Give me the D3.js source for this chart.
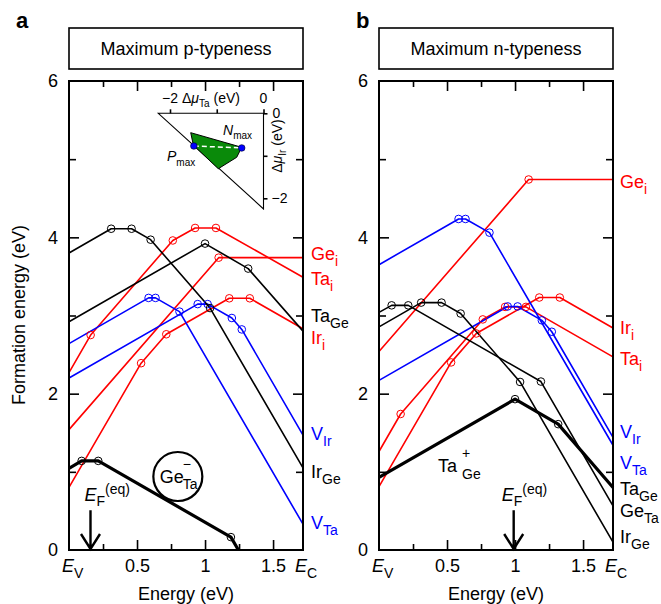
<!DOCTYPE html>
<html lang="en">
<head>
<meta charset="UTF-8">
<title>Defect formation energies</title>
<style>
  body { margin: 0; background: #fff; }
  svg { font-family: "Liberation Sans", Arial, Helvetica, sans-serif; }
  .frame { fill: none; stroke: #000; stroke-width: 2; }
  .box { fill: none; stroke: #000; stroke-width: 1.6; }
  .tick line { stroke: #000; stroke-width: 1.6; }
</style>
</head>
<body>
<svg id="chart" width="661" height="604"></svg>
<script src="https://d3js.org/d3.v7.min.js"></script>
<script>
// energy axis (eV), E_V = 0 .. E_C
const bandGap = 1.72;
const energyTicks = [0.5, 1, 1.5];
const energyMinor = [0.25, 0.75, 1.25];
const formTicks = [0, 2, 4, 6];
const formMajorInner = [2, 4];
const formMinor = [1, 3, 5];

// defects, same order in every list below
const defectMain = ["Ge", "Ta", "Ir", "V", "V", "Ta", "Ge", "Ir"];
const defectSub = ["i", "i", "i", "Ta", "Ir", "Ge", "Ta", "Ge"];

// panel a, maximum p-typeness: [Fermi level, formation energy]
const pGei = [[0, 1.54], [1.10, 3.74], [1.72, 3.74]];
const pTai = [[0, 2.27], [0.159, 2.75], [0.763, 3.96], [0.927, 4.12], [1.08, 4.12], [1.72, 3.49]];
const pIri = [[0, 0.80], [0.53, 2.39], [0.715, 2.76], [1.178, 3.22], [1.329, 3.22], [1.72, 2.83]];
const pVTa = [[0, 2.64], [0.585, 3.225], [0.636, 3.225], [0.812, 3.05], [1.72, 0.33]];
const pVIr = [[0, 2.20], [0.946, 3.146], [1.019, 3.146], [1.197, 2.968], [1.27, 2.822], [1.72, 1.47]];
const pTaGe = [[0, 2.92], [1.0, 3.92], [1.317, 3.60], [1.72, 2.80]];
const pGeTa = [[0, 1.045], [0.093, 1.14], [0.215, 1.14], [1.19, 0.165], [1.245, 0]];
const pIrGe = [[0, 3.80], [0.31, 4.11], [0.46, 4.11], [0.60, 3.97], [1.037, 3.095], [1.72, 1.05]];

// panel b, maximum n-typeness
const nGei = [[0, 2.54], [1.10, 4.74], [1.72, 4.74]];
const nTai = [[0, 1.26], [0.159, 1.74], [0.763, 2.95], [0.927, 3.11], [1.08, 3.11], [1.72, 2.47]];
const nIri = [[0, 0.81], [0.53, 2.40], [0.715, 2.77], [1.178, 3.23], [1.329, 3.23], [1.72, 2.84]];
const nVTa = [[0, 3.65], [0.585, 4.235], [0.636, 4.235], [0.812, 4.06], [1.72, 1.34]];
const nVIr = [[0, 2.17], [0.946, 3.116], [1.019, 3.116], [1.197, 2.938], [1.27, 2.792], [1.72, 1.44]];
const nTaGe = [[0, 0.93], [1.0, 1.93], [1.317, 1.61], [1.72, 0.80]];
const nGeTa = [[0, 3.04], [0.093, 3.13], [0.215, 3.13], [1.19, 2.155], [1.72, 0.565]];
const nIrGe = [[0, 2.855], [0.31, 3.165], [0.46, 3.165], [0.60, 3.025], [1.037, 2.15], [1.72, 0.10]];

// energy at which each right-hand label sits (null = no label)
const labelEnergyA = [3.71, 3.39, 2.635, 0.27, 1.41, 2.917, null, 0.92];
const labelEnergyB = [4.63, 2.37, 2.76, 1.04, 1.43, 0.70, 0.42, 0.09];

// equilibrium Fermi levels
const fermiA = 0.158;
const fermiB = 0.99;

// chemical potential inset (eV)
const insetTriangle = [[-2.25, 0], [0, 0], [0, -2.25]];
const stableRegion = [[-1.557, -0.456], [-0.466, -0.80], [-0.573, -1.035], [-0.967, -1.304], [-1.50, -0.75]];
const pMax = [-1.49, -0.77];
const nMax = [-0.466, -0.815];
const insetTicks = [-2, -1, 0];

const svg = d3.select("#chart");
const y = d3.scaleLinear().domain([0, 6]).range([550, 81]);

function colorOf(i) {
  if (defectSub[i] === "i") return "#ff0000";
  if (defectMain[i] === "V") return "#0000ff";
  return "#000000";
}

function subText(sel, main, sub, italic) {
  sel.append("tspan").attr("font-style", italic ? "italic" : null).text(main);
  sel.append("tspan").attr("font-size", 14).attr("dy", 6).text(sub);
}

function drawPanel(cfg) {
  const x = d3.scaleLinear().domain([0, bandGap]).range(cfg.range);
  const x0 = cfg.range[0], x1 = cfg.range[1];
  const g = svg.append("g");

  // panel letter and title box
  g.append("text").attr("x", cfg.letterX).attr("y", 28)
    .attr("font-size", 22).attr("font-weight", "bold").text(cfg.letter);
  g.append("rect").attr("class", "box")
    .attr("x", x0).attr("y", 28).attr("width", x1 - x0).attr("height", 41);
  g.append("text").attr("x", (x0 + x1) / 2).attr("y", 55)
    .attr("text-anchor", "middle").attr("font-size", 18).text(cfg.title);

  // inward ticks on all four sides
  const ticks = (axis, tr, size) => g.append("g").attr("transform", tr)
    .call(axis.tickSize(size).tickFormat(""))
    .call(s => s.select(".domain").remove());
  ticks(d3.axisBottom(x).tickValues(energyTicks), `translate(0,${y(0)})`, -10);
  ticks(d3.axisBottom(x).tickValues(energyMinor), `translate(0,${y(0)})`, -6);
  ticks(d3.axisTop(x).tickValues(energyTicks), `translate(0,${y(6)})`, -10);
  ticks(d3.axisTop(x).tickValues(energyMinor), `translate(0,${y(6)})`, -6);
  ticks(d3.axisLeft(y).tickValues(formMajorInner), `translate(${x0},0)`, -10);
  ticks(d3.axisLeft(y).tickValues(formMinor), `translate(${x0},0)`, -7);
  ticks(d3.axisRight(y).tickValues(formMajorInner), `translate(${x1},0)`, -10);
  ticks(d3.axisRight(y).tickValues(formMinor), `translate(${x1},0)`, -7);

  // tick labels
  g.append("g").attr("transform", `translate(0,${y(0)})`)
    .call(d3.axisBottom(x).tickValues(energyTicks).tickSize(0).tickPadding(9).tickFormat(d => d))
    .call(s => s.select(".domain").remove())
    .attr("font-size", 18).attr("font-family", null);
  g.append("g").attr("transform", `translate(${x0},0)`)
    .call(d3.axisLeft(y).tickValues(formTicks).tickSize(0).tickPadding(11).tickFormat(d => d))
    .call(s => s.select(".domain").remove())
    .attr("font-size", 18).attr("font-family", null);

  const ev = g.append("text").attr("x", x(0) - 7).attr("y", 572).attr("font-size", 18);
  subText(ev, "E", "V", true);
  const ec = g.append("text").attr("x", x(bandGap) - 8).attr("y", 572).attr("font-size", 18);
  subText(ec, "E", "C", true);
  g.append("text").attr("x", (x0 + x1) / 2).attr("y", 600)
    .attr("text-anchor", "middle").attr("font-size", 18).text("Energy (eV)");

  // defect lines
  const line = d3.line().x(d => x(d[0])).y(d => y(d[1]));
  cfg.series.forEach((pts, i) => {
    g.append("path").datum(pts).attr("d", line)
      .attr("fill", "none").attr("stroke", colorOf(i))
      .attr("stroke-width", i === cfg.thick ? 3.2 : 1.6)
      .attr("stroke-linejoin", "round");
  });
  cfg.series.forEach((pts, i) => {
    g.selectAll(null).data(pts.slice(1, -1)).enter().append("circle")
      .attr("cx", d => x(d[0])).attr("cy", d => y(d[1])).attr("r", 3.8)
      .attr("fill", "none").attr("stroke", colorOf(i)).attr("stroke-width", 1);
  });

  // frame
  g.append("rect").attr("class", "frame")
    .attr("x", x0).attr("y", y(6)).attr("width", x1 - x0).attr("height", y(0) - y(6));

  // right-hand labels
  cfg.labels.forEach((e, i) => {
    if (e === null) return;
    const t = g.append("text").attr("x", x1 + cfg.labelGap).attr("y", y(e))
      .attr("font-size", 18).attr("fill", colorOf(i));
    subText(t, defectMain[i], defectSub[i], false);
  });

  // equilibrium Fermi level arrow
  const fx = x(cfg.fermi);
  g.append("path")
    .attr("d", `M${fx},${y(0.51)}V${y(0) - 1}M${fx - 9.5},${y(0) - 16}L${fx},${y(0) - 1}L${fx + 9.5},${y(0) - 16}`)
    .attr("fill", "none").attr("stroke", "#000").attr("stroke-width", 2.4);
  const ef = g.append("text").attr("x", fx + cfg.fermiText).attr("y", 501).attr("font-size", 18);
  ef.append("tspan").attr("font-style", "italic").text("E");
  ef.append("tspan").attr("font-size", 14).attr("dy", 5).text("F");
  ef.append("tspan").attr("font-size", 14).attr("dy", -12).text("(eq)");

  return { g, x };
}

const a = drawPanel({
  letter: "a", letterX: 16, title: "Maximum p-typeness", range: [69, 303], labelGap: 8,
  series: [pGei, pTai, pIri, pVTa, pVIr, pTaGe, pGeTa, pIrGe], thick: 6,
  labels: labelEnergyA, fermi: fermiA, fermiText: -6
});
const b = drawPanel({
  letter: "b", letterX: 356, title: "Maximum n-typeness", range: [379, 613], labelGap: 7,
  series: [nGei, nTai, nIri, nVTa, nVIr, nTaGe, nGeTa, nIrGe], thick: 5,
  labels: labelEnergyB, fermi: fermiB, fermiText: -12
});

// y axis title
svg.append("text").attr("transform", "translate(25,315) rotate(-90)")
  .attr("text-anchor", "middle").attr("font-size", 18).text("Formation energy (eV)");

// dominant defect callouts
const ca = a.g.append("g");
ca.append("circle").attr("cx", a.x(0.80)).attr("cy", y(0.94)).attr("r", 24.5)
  .attr("fill", "#fff").attr("stroke", "#000").attr("stroke-width", 2.2);
const caT = ca.append("text").attr("font-size", 18);
caT.append("tspan").attr("x", a.x(0.80) - 18).attr("y", y(0.94) + 6).text("Ge");
caT.append("tspan").attr("x", a.x(0.80) + 5).attr("y", y(0.94) + 12).attr("font-size", 14).text("Ta");
caT.append("tspan").attr("x", a.x(0.80) + 5).attr("y", y(0.94) - 8).attr("font-size", 14).text("\u2212");

const cbT = b.g.append("text").attr("font-size", 18);
cbT.append("tspan").attr("x", 438).attr("y", 472).text("Ta");
cbT.append("tspan").attr("x", 462).attr("y", 458).attr("font-size", 14).text("+");
cbT.append("tspan").attr("x", 462).attr("y", 479).attr("font-size", 14).text("Ge");

// chemical potential inset in panel a
const muTa = d3.scaleLinear().domain([-2, 0]).range([170, 263.5]);
const muIr = d3.scaleLinear().domain([0, -2]).range([113.3, 198.3]);
const ins = a.g.append("g");
const poly = d3.line().x(d => muTa(d[0])).y(d => muIr(d[1])).curve(d3.curveLinearClosed);
ins.append("path").datum(insetTriangle).attr("d", poly)
  .attr("fill", "#fff").attr("stroke", "#000").attr("stroke-width", 1.1);
ins.append("g").attr("transform", `translate(0,${muIr(0)})`)
  .call(d3.axisTop(muTa).tickValues(insetTicks).tickSize(4).tickFormat(""))
  .call(s => s.select(".domain").remove());
ins.append("g").attr("transform", `translate(${muTa(0)},0)`)
  .call(d3.axisRight(muIr).tickValues(insetTicks).tickSize(4).tickFormat(""))
  .call(s => s.select(".domain").remove());
ins.selectAll(".tick line").attr("stroke-width", 1.1);
ins.append("path").datum(stableRegion).attr("d", poly)
  .attr("fill", "#0a8a0a").attr("stroke", "#000").attr("stroke-width", 1);
ins.append("line")
  .attr("x1", muTa(pMax[0])).attr("y1", muIr(pMax[1]))
  .attr("x2", muTa(nMax[0])).attr("y2", muIr(nMax[1]))
  .attr("stroke", "#fff").attr("stroke-width", 1.5).attr("stroke-dasharray", "5,3");
ins.selectAll(null).data([pMax, nMax]).enter().append("circle")
  .attr("cx", d => muTa(d[0])).attr("cy", d => muIr(d[1])).attr("r", 3.3)
  .attr("fill", "#0000ff").attr("stroke", "#000022").attr("stroke-width", 0.6);

const topLab = ins.append("text").attr("y", 103).attr("font-size", 14);
ins.append("text").attr("x", muTa(-2)).attr("y", 103).attr("font-size", 14)
  .attr("text-anchor", "middle").text("\u22122");
ins.append("text").attr("x", muTa(0)).attr("y", 103).attr("font-size", 14)
  .attr("text-anchor", "middle").text("0");
topLab.attr("x", 182);
topLab.append("tspan").text("\u0394");
topLab.append("tspan").attr("font-style", "italic").text("\u03bc");
topLab.append("tspan").attr("font-size", 10).attr("dy", 4).text("Ta");
topLab.append("tspan").attr("dy", -4).text(" (eV)");

ins.append("text").attr("x", muTa(0) + 9).attr("y", muIr(0) + 5).attr("font-size", 14).text("0");
ins.append("text").attr("x", muTa(0) + 8).attr("y", muIr(-2) + 5).attr("font-size", 14).text("\u22122");
const rightLab = ins.append("text")
  .attr("transform", `translate(${muTa(0) + 18},${muIr(-1.4)}) rotate(-90)`)
  .attr("font-size", 14);
rightLab.append("tspan").text("\u0394");
rightLab.append("tspan").attr("font-style", "italic").text("\u03bc");
rightLab.append("tspan").attr("font-size", 10).attr("dy", 4).text("Ir");
rightLab.append("tspan").attr("dy", -4).text(" (eV)");

const nLab = ins.append("text").attr("x", 223).attr("y", 135).attr("font-size", 14);
nLab.append("tspan").attr("font-style", "italic").text("N");
nLab.append("tspan").attr("font-size", 10).attr("dy", 4).text("max");
const pLab = ins.append("text").attr("x", 167).attr("y", 161).attr("font-size", 14);
pLab.append("tspan").attr("font-style", "italic").text("P");
pLab.append("tspan").attr("font-size", 10).attr("dy", 5).text("max");
</script>
</body>
</html>
